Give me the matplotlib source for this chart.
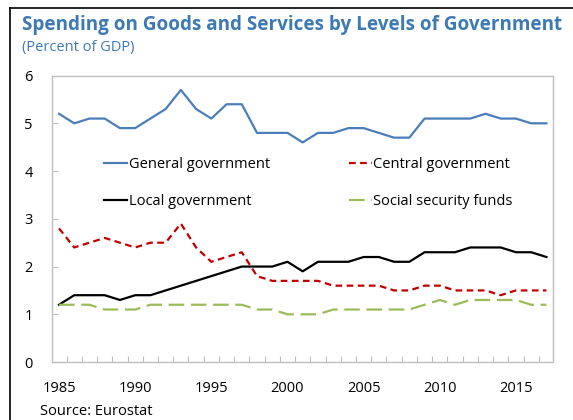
import matplotlib
matplotlib.use("Agg")
import matplotlib.pyplot as plt
from matplotlib.lines import Line2D

plt.rcParams['font.family'] = ['Open Sans', 'DejaVu Sans']

# Data (percent of GDP)
years = list(range(1985, 2018))
general = [5.2, 5.0, 5.1, 5.1, 4.9, 4.9, 5.1, 5.3, 5.7, 5.3, 5.1, 5.4, 5.4,
           4.8, 4.8, 4.8, 4.6, 4.8, 4.8, 4.9, 4.9, 4.8, 4.7, 4.7, 5.1, 5.1,
           5.1, 5.1, 5.2, 5.1, 5.1, 5.0, 5.0]
central = [2.8, 2.4, 2.5, 2.6, 2.5, 2.4, 2.5, 2.5, 2.9, 2.4, 2.1, 2.2, 2.3,
           1.8, 1.7, 1.7, 1.7, 1.7, 1.6, 1.6, 1.6, 1.6, 1.5, 1.5, 1.6, 1.6,
           1.5, 1.5, 1.5, 1.4, 1.5, 1.5, 1.5]
local = [1.2, 1.4, 1.4, 1.4, 1.3, 1.4, 1.4, 1.5, 1.6, 1.7, 1.8, 1.9, 2.0,
         2.0, 2.0, 2.1, 1.9, 2.1, 2.1, 2.1, 2.2, 2.2, 2.1, 2.1, 2.3, 2.3,
         2.3, 2.4, 2.4, 2.4, 2.3, 2.3, 2.2]
social = [1.2, 1.2, 1.2, 1.1, 1.1, 1.1, 1.2, 1.2, 1.2, 1.2, 1.2, 1.2, 1.2,
          1.1, 1.1, 1.0, 1.0, 1.0, 1.1, 1.1, 1.1, 1.1, 1.1, 1.1, 1.2, 1.3,
          1.2, 1.3, 1.3, 1.3, 1.3, 1.2, 1.2]
x_labels = [1985, 1990, 1995, 2000, 2005, 2010, 2015]
y_ticks = [0, 1, 2, 3, 4, 5, 6]

BLUE = '#4A7EBB'
TITLE_BLUE = '#3D7AB3'
GRAY = '#BFBFBF'

fig = plt.figure(figsize=(5.73, 4.2), dpi=100)
ax = fig.add_axes([0.0913, 0.138, 0.874, 0.682])

ax.plot(years, general, color=BLUE, lw=1.6, label='General government')
ax.plot(years, local, color='black', lw=1.6, label='Local government')
ax.plot(years, central, color='#C00000', lw=1.6, dashes=(3, 2),
        label='Central government')
ax.plot(years, social, color='#9BBB59', lw=1.6, dashes=(7, 3),
        label='Social security funds')

ax.set_xlim(1984.56, 2017.44)
ax.set_ylim(0, 6)
ax.set_yticks(y_ticks)
ax.set_xticks(x_labels)
ax.set_xticks([y + 0.5 for y in years[:-1]], minor=True)
ax.tick_params(axis='x', which='major', length=0, pad=14, labelsize=10.5)
ax.tick_params(axis='x', which='minor', direction='in', length=4,
               color=GRAY, width=0.8)
ax.tick_params(axis='y', direction='in', length=4, color=GRAY, width=0.8,
               pad=14, labelsize=10.5)
for s in ax.spines.values():
    s.set_color(GRAY)
    s.set_linewidth(1.0)

ax.legend(ncol=2, loc='upper left', bbox_to_anchor=(0.103, 0.717),
          frameon=False, fontsize=10.5, handlelength=1.6, handletextpad=0.1,
          labelspacing=1.55, columnspacing=5.4, borderpad=0, borderaxespad=0)

fig.text(22 / 573, 1 - 25 / 420, 'Spending on Goods and Services by Levels of Government',
         fontsize=13.6, fontweight='bold', color=TITLE_BLUE, va='center', ha='left')
fig.text(22 / 573, 1 - 48 / 420, '(Percent of GDP)', fontsize=10.5,
         color=TITLE_BLUE, va='center', ha='left')
fig.text(40 / 573, 1 / 420, 'Source: Eurostat', fontsize=10.5,
         va='bottom', ha='left')

# frame lines from the page box
fig.add_artist(Line2D([10 / 573, 1], [1 - 7.5 / 420, 1 - 7.5 / 420],
                      color='black', lw=1.2, transform=fig.transFigure))
fig.add_artist(Line2D([10 / 573, 10 / 573], [0, 1 - 7.5 / 420],
                      color='black', lw=1.2, transform=fig.transFigure))

fig.savefig('out.png', dpi=100)
